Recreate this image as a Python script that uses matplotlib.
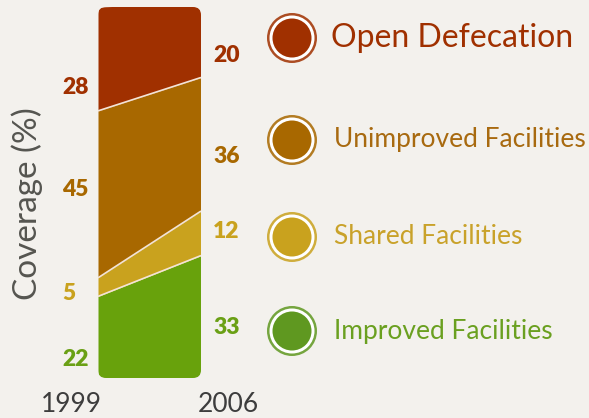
import matplotlib
matplotlib.use("Agg")
import matplotlib.pyplot as plt
from matplotlib.patches import FancyBboxPatch, Circle
import numpy as np

# ---- data ----
years = [1999, 2006]
categories = ["Improved Facilities", "Shared Facilities", "Unimproved Facilities", "Open Defecation"]
improved = [22, 33]
shared = [5, 12]
unimproved = [45, 36]
open_def = [28, 20]
series = [improved, shared, unimproved, open_def]

# ---- style ----
BG = "#f3f1ed"
fill_colors = ["#68a20c", "#c9a21e", "#a86800", "#a03000"]
legend_fill = ["#5f9820", "#c9a21e", "#a86800", "#a03000"]
text_colors = ["#6aa020", "#c9a22a", "#a86a10", "#a03000"]
label_colors = ["#6aa015", "#c9a21e", "#a86800", "#a03000"]
FONT = "Lato"

W, H = 589, 418
fig = plt.figure(figsize=(W / 100, H / 100), dpi=100, facecolor=BG)

# overlay axes in pixel coordinates
ov = fig.add_axes([0, 0, 1, 1])
ov.set_xlim(0, W)
ov.set_ylim(H, 0)
ov.axis("off")
ov.set_facecolor(BG)

# chart axes
x0, y0, x1, y1 = 98, 7, 201, 378
ax = fig.add_axes([x0 / W, (H - y1) / H, (x1 - x0) / W, (y1 - y0) / H])
ax.set_facecolor("none")
ax.set_xlim(years[0], years[1])
ax.set_ylim(0, 100)
ax.axis("off")

clip = FancyBboxPatch((x0, y0), x1 - x0, y1 - y0,
                      boxstyle="round,pad=0,rounding_size=8",
                      transform=ov.transData, facecolor="none", edgecolor="none")

base = np.zeros(len(years))
tops = []
for vals, c in zip(series, fill_colors):
    top = base + np.array(vals, dtype=float)
    poly = ax.fill_between(years, base, top, color=c, linewidth=0, zorder=1)
    poly.set_clip_path(clip)
    tops.append(top.copy())
    base = top

for t in tops[:-1]:
    ln, = ax.plot(years, t, color="#f3e4d6", lw=1.2, zorder=2, solid_capstyle="butt")
    ln.set_clip_path(clip)

# value labels
left_pos = [4.9, 22.9, 50.9, 78.4]
right_pos = [13.5, 39.6, 59.6, 87.0]
lx = (62 - x0) / (x1 - x0)
rx = (213 - x0) / (x1 - x0)
for vals, c, lp, rp in zip(series, label_colors, left_pos, right_pos):
    ax.text(lx, lp, f"{vals[0]}", transform=ax.get_yaxis_transform(), color=c,
            fontsize=16.5, fontweight="heavy", family=FONT, ha="left", va="center")
    ax.text(rx, rp, f"{vals[1]}", transform=ax.get_yaxis_transform(), color=c,
            fontsize=16.5, fontweight="heavy", family=FONT, ha="left", va="center")

# year labels
ax.text(years[0], -9.2, str(years[0]), ha="right", va="baseline", fontsize=19,
        family=FONT, color="#3d3d3d", clip_on=False,
        transform=ax.transData + matplotlib.transforms.ScaledTranslation(4 / 100, 0, fig.dpi_scale_trans))
ax.text(years[1], -9.2, str(years[1]), ha="left", va="baseline", fontsize=19,
        family=FONT, color="#3d3d3d", clip_on=False,
        transform=ax.transData + matplotlib.transforms.ScaledTranslation(-3 / 100, 0, fig.dpi_scale_trans))

# y axis title
ov.text(27, 204, "Coverage (%)", rotation=90, ha="center", va="center",
        fontsize=24, family=FONT, color="#555550")

# legend
leg_y = [331, 237, 140, 38]
leg_fs = [19, 19, 19, 23]
leg_x = [334, 334, 334, 331]
cx = 292
for name, fc, tc, ly, fs, lxp in zip(categories, legend_fill, text_colors, leg_y, leg_fs, leg_x):
    ov.add_patch(Circle((cx, ly), 25, facecolor=fc, edgecolor="none", alpha=0.85))
    ov.add_patch(Circle((cx, ly), 22.5, facecolor="white", edgecolor="none"))
    ov.add_patch(Circle((cx, ly), 19.5, facecolor=fc, edgecolor="none"))
    ov.text(lxp, ly, name, color=tc, fontsize=fs, family=FONT,
            ha="left", va="center")

fig.savefig("out.png", dpi=100, facecolor=BG)
